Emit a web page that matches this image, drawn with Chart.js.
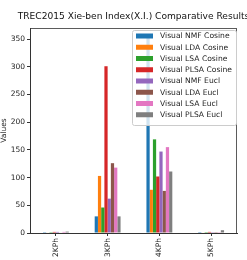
<!DOCTYPE html>
<html>
<head>
<meta charset="utf-8">
<script src="https://cdn.jsdelivr.net/npm/chart.js@4"></script>
<style>
  html, body { margin: 0; padding: 0; background: #fff; }
  #wrap { width: 247px; height: 260px; }
</style>
</head>
<body>
<div id="wrap"><canvas id="chart"></canvas></div>
<script>
// categories and series
const categories = ['2KPh', '3KPh', '4KPh', '5KPh'];
const seriesNames = [
    'Visual NMF Cosine', 'Visual LDA Cosine', 'Visual LSA Cosine', 'Visual PLSA Cosine',
    'Visual NMF Eucl', 'Visual LDA Eucl', 'Visual LSA Eucl', 'Visual PLSA Eucl'
];
const nmfCosine  = [0.3, 30, 352, 0.2];
const ldaCosine  = [1, 103, 78, 1];
const lsaCosine  = [0.3, 46, 169, 0.2];
const plsaCosine = [2, 301, 102, 2];
const nmfEucl    = [2, 62, 147, 0.3];
const ldaEucl    = [1, 126, 76, 0.3];
const lsaEucl    = [2, 118, 155, 0.3];
const plsaEucl   = [2.5, 30, 111, 5];
const yTicks = [0, 50, 100, 150, 200, 250, 300, 350];
const chartTitle = 'TREC2015 Xie-ben Index(X.I.) Comparative Results';

const seriesValues = [nmfCosine, ldaCosine, lsaCosine, plsaCosine, nmfEucl, ldaEucl, lsaEucl, plsaEucl];
const colors = ['#1f77b4', '#ff7f0e', '#2ca02c', '#d62728', '#9467bd', '#8c564b', '#e377c2', '#7f7f7f'];
const FONT = 'DejaVu Sans';

// title centred on the plot, frame on four sides, legend inside the plot
const framePlugin = {
    id: 'frame',
    afterDraw(chart) {
        const ctx = chart.ctx;
        const a = chart.chartArea;
        ctx.save();
        ctx.fillStyle = '#111';
        ctx.font = '9.1px "' + FONT + '"';
        ctx.textAlign = 'center';
        ctx.textBaseline = 'middle';
        ctx.fillText(chartTitle, (a.left + a.right) / 2, 17);
        ctx.textAlign = 'left';

        ctx.strokeStyle = '#333';
        ctx.lineWidth = 0.8;
        ctx.strokeRect(a.left + 0.5, a.top + 0.5, a.right - a.left - 1, a.bottom - a.top);

        // legend box
        const x0 = 132, y0 = 30, w = 104, rowH = 11.25;
        const h = rowH * seriesNames.length + 5;
        ctx.fillStyle = 'rgba(255,255,255,0.8)';
        ctx.strokeStyle = '#cccccc';
        ctx.lineWidth = 1;
        ctx.beginPath();
        ctx.roundRect(x0 + 0.5, y0 + 0.5, w, h, 2);
        ctx.fill();
        ctx.stroke();
        ctx.font = '7.6px "' + FONT + '"';
        chart.data.datasets.forEach((ds, i) => {
            const cy = y0 + 6 + rowH * i;
            ctx.fillStyle = ds.backgroundColor;
            ctx.fillRect(x0 + 4, cy - 2.5, 17, 5);
            ctx.fillStyle = '#222';
            ctx.fillText(ds.label, x0 + 28, cy + 0.5);
        });
        ctx.restore();
    }
};

new Chart(document.getElementById('chart'), {
    type: 'bar',
    data: {
        labels: categories,
        datasets: seriesNames.map((name, i) => ({
            label: name,
            data: seriesValues[i],
            backgroundColor: colors[i],
            borderWidth: 0,
            categoryPercentage: 0.5,
            barPercentage: 1.0
        }))
    },
    options: {
        responsive: true,
        maintainAspectRatio: false,
        animation: false,
        layout: { padding: { left: 0, right: 10, top: 28, bottom: 0 } },
        plugins: {
            legend: { display: false },
            tooltip: { enabled: false },
            title: { display: false }
        },
        scales: {
            x: {
                offset: true,
                grid: { display: true, drawOnChartArea: false, offset: false, tickLength: 3, color: '#333' },
                border: { display: true, color: '#333' },
                ticks: {
                    color: '#222',
                    font: { family: FONT, size: 7.5 },
                    maxRotation: 90, minRotation: 90,
                    padding: 2
                },
                afterFit(scale) { scale.height = 27; }
            },
            y: {
                min: 0,
                max: 370,
                afterBuildTicks(scale) { scale.ticks = yTicks.map(v => ({ value: v })); },
                grid: { display: true, drawOnChartArea: false, tickLength: 3, color: '#333' },
                border: { display: true, color: '#333' },
                ticks: {
                    color: '#222',
                    font: { family: FONT, size: 7.5 },
                    padding: 2
                },
                title: {
                    display: true,
                    text: 'Values',
                    color: '#222',
                    font: { family: FONT, size: 7.5 },
                    padding: 0
                },
                afterFit(scale) { scale.width = 30; }
            }
        }
    },
    plugins: [framePlugin]
});
</script>
</body>
</html>
